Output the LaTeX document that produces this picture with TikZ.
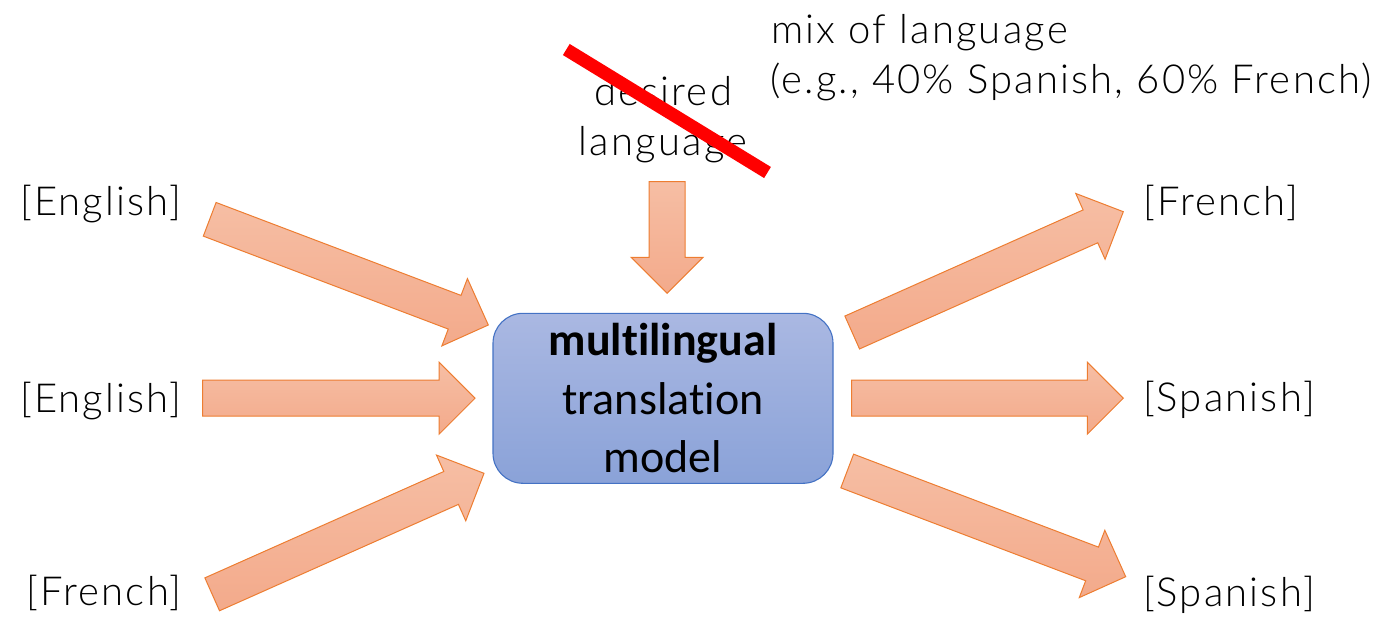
\documentclass[tikz,border=0pt]{standalone}
\usepackage{fontspec}
\setmainfont{Lato Light}[LetterSpace=5.5]
\newfontfamily\boxfont{Carlito}[Ligatures=NoCommon]
\usetikzlibrary{calc}

\definecolor{arrowedge}{HTML}{ED7D31}
\definecolor{arrowtop}{HTML}{F6BEA4}
\definecolor{arrowbot}{HTML}{F3AA8B}
\definecolor{boxedge}{HTML}{4472C4}
\definecolor{boxtop}{HTML}{AAB8E2}
\definecolor{boxbot}{HTML}{8AA2D8}
\definecolor{strikered}{HTML}{FF0000}

\tikzset{
  fatarrow/.style={draw=arrowedge, line width=1pt, line join=miter,
    top color=arrowtop, bottom color=arrowbot},
  langtext/.style={font=\fontsize{40}{50}\selectfont, inner sep=0pt, text=black},
  modelbox/.style={draw=boxedge, line width=1.1pt, rounded corners=30pt,
    top color=boxtop, bottom color=boxbot, minimum width=340pt,
    minimum height=170pt, align=center, inner sep=0pt,
    font=\boxfont\fontsize{46}{58.5}\selectfont},
  strikeout/.style={draw=strikered, line width=13pt, line cap=butt}
}

% block arrow from tail coordinate #1 to tip coordinate #2
% shaft 36pt wide, head 72pt wide and 36pt long
\newcommand\blockarrow[2]{%
  \coordinate (neck) at ($(#2)!36pt!(#1)$);
  \draw[fatarrow]
    ($(#1)!18pt!90:(#2)$) -- ($(neck)!18pt!90:(#2)$) --
    ($(neck)!36pt!90:(#2)$) -- (#2) --
    ($(neck)!36pt!-90:(#2)$) -- ($(neck)!18pt!-90:(#2)$) --
    ($(#1)!18pt!-90:(#2)$) -- cycle;
}

\begin{document}
\begin{tikzpicture}[x=1pt,y=-1pt]
  \useasboundingbox (0,0) rectangle (1391,619);

  % arrow ends
  \coordinate (inA-tail) at (209.7,219.3);  \coordinate (inA-tip) at (488.3,325);
  \coordinate (inB-tail) at (202.7,398.2);  \coordinate (inB-tip) at (475,398.2);
  \coordinate (inC-tail) at (212.2,594.3);  \coordinate (inC-tip) at (484,473.3);
  \coordinate (ctl-tail) at (667.1,181.7);  \coordinate (ctl-tip) at (667.1,293.3);
  \coordinate (outA-tail) at (852.2,332.5); \coordinate (outA-tip) at (1123.3,211.7);
  \coordinate (outB-tail) at (851.7,398.2); \coordinate (outB-tip) at (1123.3,398.2);
  \coordinate (outC-tail) at (847.2,471);   \coordinate (outC-tip) at (1125.7,576.7);

  \blockarrow{inA-tail}{inA-tip}
  \blockarrow{inB-tail}{inB-tip}
  \blockarrow{inC-tail}{inC-tip}
  \blockarrow{ctl-tail}{ctl-tip}
  \blockarrow{outA-tail}{outA-tip}
  \blockarrow{outB-tail}{outB-tip}
  \blockarrow{outC-tail}{outC-tip}

  % the model
  \node[modelbox] (model) at (663,398.3)
    {{\bfseries multilingual}\\translation\\model};

  % input languages
  \node[langtext, anchor=base east] (srcA) at (182,215) {[English]};
  \node[langtext, anchor=base east] (srcB) at (182,412.7) {[English]};
  \node[langtext, anchor=base east] (srcC) at (182,605) {[French]};

  % output languages
  \node[langtext, anchor=base west] (tgtA) at (1143,215) {[French]};
  \node[langtext, anchor=base west] (tgtB) at (1143,411.7) {[Spanish]};
  \node[langtext, anchor=base west] (tgtC) at (1143,606.7) {[Spanish]};

  % target-language control
  \node[langtext, anchor=base] (desiredA) at (663,105) {desired};
  \node[langtext, anchor=base] (desiredB) at (663,155) {language};
  \node[langtext, anchor=base west] (mixA) at (771,43) {mix of language};
  \node[langtext, anchor=base west] (mixB) at (770,93) {(e.g., 40\% Spanish, 60\% French)};

  % crossed out
  \coordinate (strikeA) at (566.3,49.5);
  \coordinate (strikeB) at (767.5,172.5);
  \draw[strikeout] (strikeA) -- (strikeB);
\end{tikzpicture}
\end{document}
